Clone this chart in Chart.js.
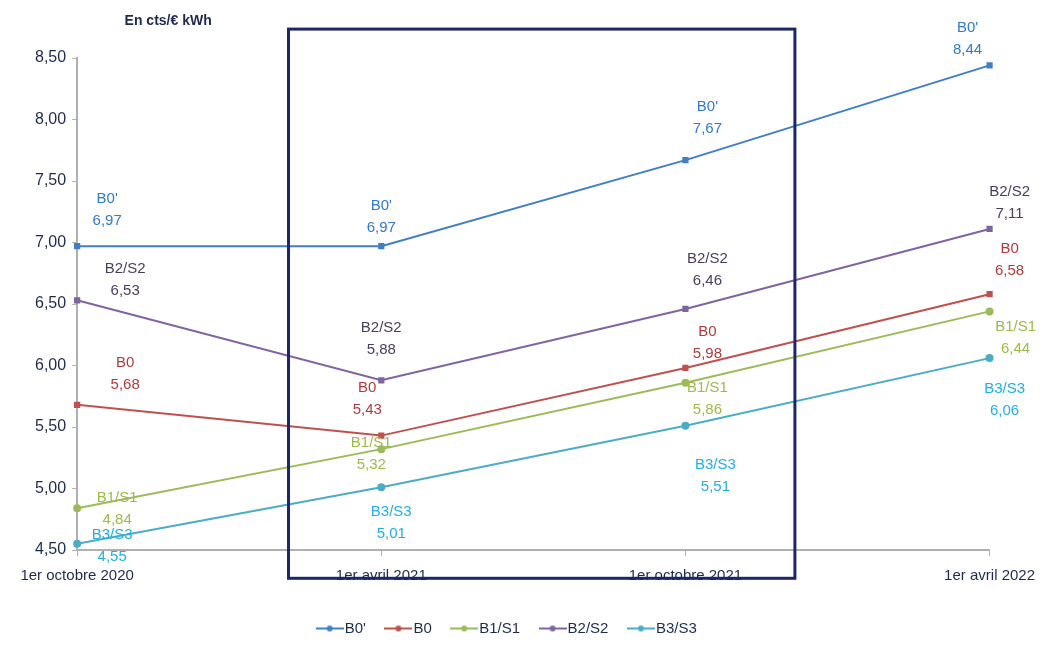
<!DOCTYPE html>
<html lang="fr">
<head>
  <meta charset="UTF-8">
  <title>Tarifs en cts/€ kWh</title>
  <script src="https://cdn.jsdelivr.net/npm/chart.js"></script>
  <style>
    body { margin: 0; background: #fff; }
    #wrap { width: 1046px; height: 655px; }
  </style>
</head>
<body>
  <div id="wrap"><canvas id="chart" width="1046" height="655"></canvas></div>
  <script>
    // donnees
    const dates = ["1er octobre 2020", "1er avril 2021", "1er octobre 2021", "1er avril 2022"];
    const seriesNames = ["B0'", "B0", "B1/S1", "B2/S2", "B3/S3"];
    const b0prime = [6.97, 6.97, 7.67, 8.44];
    const b0 = [5.68, 5.43, 5.98, 6.58];
    const b1s1 = [4.84, 5.32, 5.86, 6.44];
    const b2s2 = [6.53, 5.88, 6.46, 7.11];
    const b3s3 = [4.55, 5.01, 5.51, 6.06];
    const yTicks = [4.5, 5, 5.5, 6, 6.5, 7, 7.5, 8, 8.5];

    const FONT = "'Liberation Sans', Arial, sans-serif";
    const fr = v => v.toFixed(2).replace(".", ",");

    // couleurs : ligne, texte etiquette
    const styles = [
      { line: "#3f7fc8", text: "#2f7bc9", shape: "rect",
        off: [[30, -47], [0, -40], [22, -53], [-22, -38]] },
      { line: "#c0504d", text: "#b03b3b", shape: "rect",
        off: [[48, -42], [-14, -48], [22, -36], [20, -45]] },
      { line: "#9bbb59", text: "#9bbb48", shape: "circle",
        off: [[40, -10], [-10, -6], [22, 5], [26, 15]] },
      { line: "#8064a2", text: "#4a3d5c", shape: "rect",
        off: [[48, -31], [0, -52], [22, -50], [20, -37]] },
      { line: "#4bacc6", text: "#1fb0e6", shape: "circle",
        off: [[35, -9], [10, 25], [30, 39], [15, 31]] }
    ];
    const values = [b0prime, b0, b1s1, b2s2, b3s3];

    function legendIcon(color) {
      const c = document.createElement("canvas");
      c.width = 28; c.height = 8;
      const g = c.getContext("2d");
      g.strokeStyle = color; g.lineWidth = 2;
      g.beginPath(); g.moveTo(0, 4); g.lineTo(28, 4); g.stroke();
      g.fillStyle = color;
      g.beginPath(); g.arc(14, 4, 3, 0, Math.PI * 2); g.fill();
      return c;
    }

    const datasets = values.map((v, i) => ({
      label: seriesNames[i],
      data: v,
      borderColor: styles[i].line,
      backgroundColor: styles[i].line,
      borderWidth: 2,
      pointStyle: styles[i].shape,
      pointRadius: 3,
      pointHoverRadius: 3,
      tension: 0,
      legendIcon: legendIcon(styles[i].line)
    }));

    const extras = {
      id: "extras",
      afterDatasetsDraw(chart) {
        const ctx = chart.ctx;
        const xs = chart.scales.x, ys = chart.scales.y;
        ctx.save();
        // etiquettes de donnees
        ctx.font = "15px " + FONT;
        ctx.textAlign = "center";
        ctx.textBaseline = "middle";
        values.forEach((v, si) => {
          v.forEach((val, i) => {
            const px = xs.getPixelForValue(i);
            const py = ys.getPixelForValue(val);
            const [dx, dy] = styles[si].off[i];
            ctx.fillStyle = styles[si].text;
            ctx.fillText(seriesNames[si], px + dx, py + dy);
            ctx.fillText(fr(val), px + dx, py + dy + 22);
          });
        });
        // cadre autour des deux periodes centrales
        const step = xs.getPixelForValue(1) - xs.getPixelForValue(0);
        const left = xs.getPixelForValue(1) - 0.305 * step;
        const right = xs.getPixelForValue(2) + 0.36 * step;
        const top = ys.getPixelForValue(8.735);
        const bottom = ys.getPixelForValue(4.27);
        ctx.strokeStyle = "#1c2766";
        ctx.lineWidth = 3;
        ctx.strokeRect(left, top, right - left, bottom - top);
        // titre de l'axe
        ctx.font = "bold 14px " + FONT;
        ctx.fillStyle = "#1f2a4f";
        ctx.textAlign = "center";
        ctx.fillText("En cts/€ kWh", chart.chartArea.left + 91, 21);
        ctx.restore();
      }
    };

    new Chart(document.getElementById("chart"), {
      type: "line",
      data: { labels: dates, datasets },
      options: {
        responsive: false,
        animation: false,
        layout: { padding: { left: 29, right: 56, top: 58, bottom: 9 } },
        plugins: {
          legend: {
            position: "bottom",
            labels: {
              usePointStyle: true,
              generateLabels(chart) {
                return chart.data.datasets.map((d, i) => ({
                  text: d.label,
                  pointStyle: d.legendIcon,
                  fillStyle: d.borderColor,
                  strokeStyle: d.borderColor,
                  fontColor: "#1f2a4f",
                  datasetIndex: i,
                  hidden: false
                }));
              },
              font: { family: FONT, size: 15 },
              color: "#1f2a4f",
              padding: 25
            }
          },
          tooltip: { enabled: false }
        },
        scales: {
          x: {
            offset: false,
            grid: { drawOnChartArea: false, color: "#b0b0b0", tickLength: 6 },
            border: { color: "#b0b0b0", width: 2 },
            ticks: {
              font: { family: FONT, size: 15 },
              color: "#1f2a4f",
              padding: 11,
              maxRotation: 0
            }
          },
          y: {
            min: 4.5,
            max: 8.5,
            afterBuildTicks(scale) { scale.ticks = yTicks.map(v => ({ value: v })); },
            grid: { drawOnChartArea: false, color: "#b0b0b0", tickLength: 5 },
            border: { color: "#b0b0b0", width: 2 },
            ticks: {
              font: { family: FONT, size: 16 },
              color: "#1f2a4f",
              padding: 6,
              callback: v => fr(v)
            }
          }
        }
      },
      plugins: [extras]
    });
  </script>
</body>
</html>
